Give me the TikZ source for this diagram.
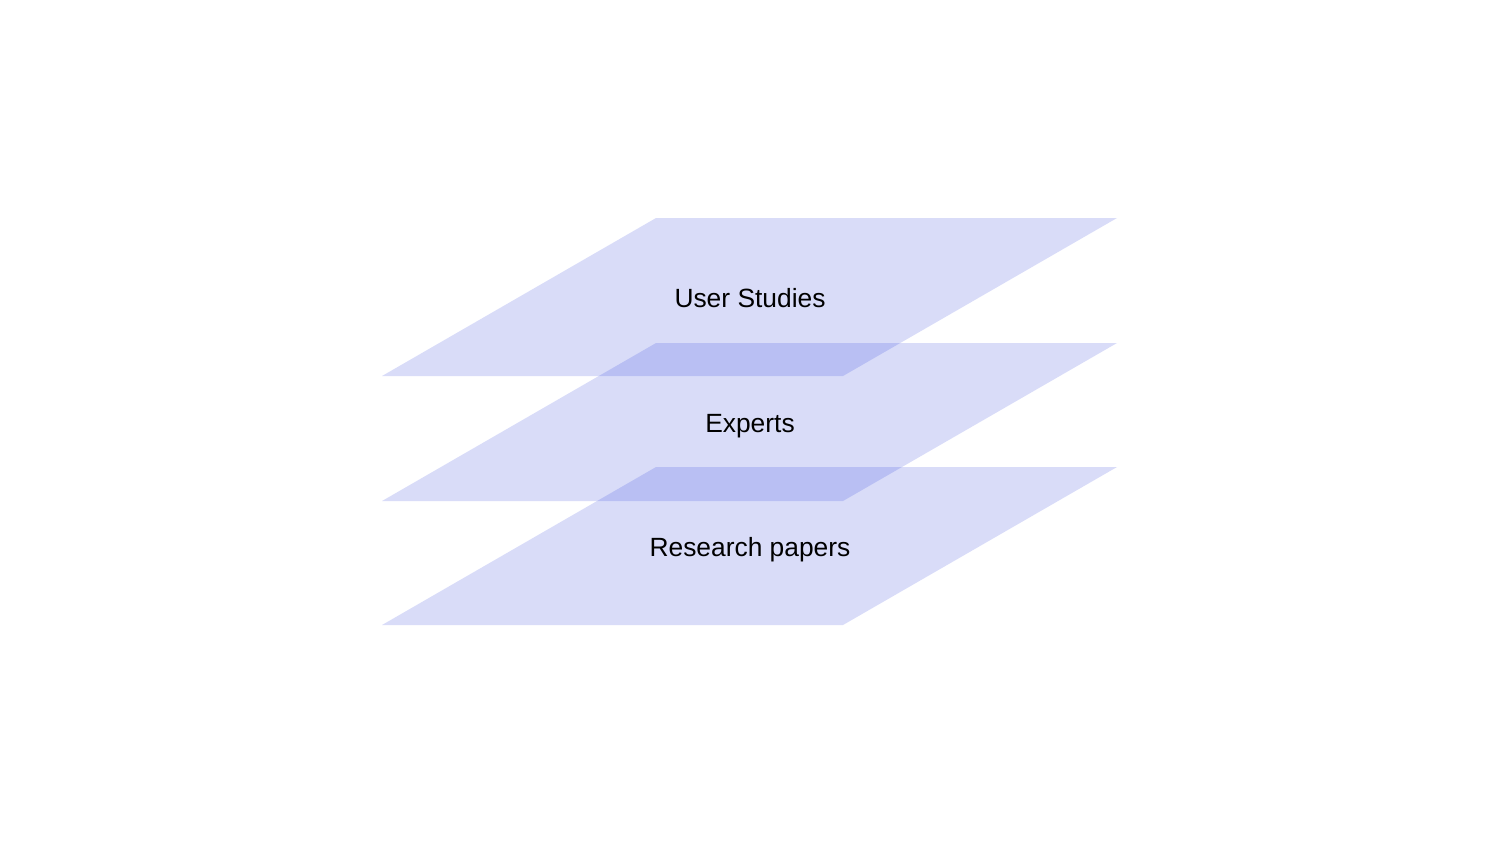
\documentclass[tikz,border=0pt]{standalone}
\usepackage{fontspec}
\setmainfont{Liberation Sans}
\definecolor{layerblue}{RGB}{0,22,210}
\begin{document}
\begin{tikzpicture}[x=0.01cm,y=-0.01cm,
  layer/.style={fill=layerblue,fill opacity=0.15,draw=none},
  lbl/.style={font=\fontsize{7.5pt}{9pt}\selectfont,text=black,inner sep=0pt,anchor=base}]
\useasboundingbox (0,0) rectangle (1500,844);
\foreach \dy in {0,125,249}{
  \fill[layer] (382,376+\dy) -- (843,376+\dy) -- (1117,218+\dy) -- (656,218+\dy) -- cycle;
}
\node[lbl] (us) at (750,307) {User Studies};
\node[lbl] (ex) at (750,432) {Experts};
\node[lbl] (rp) at (750,556) {Research papers};
\end{tikzpicture}
\end{document}
